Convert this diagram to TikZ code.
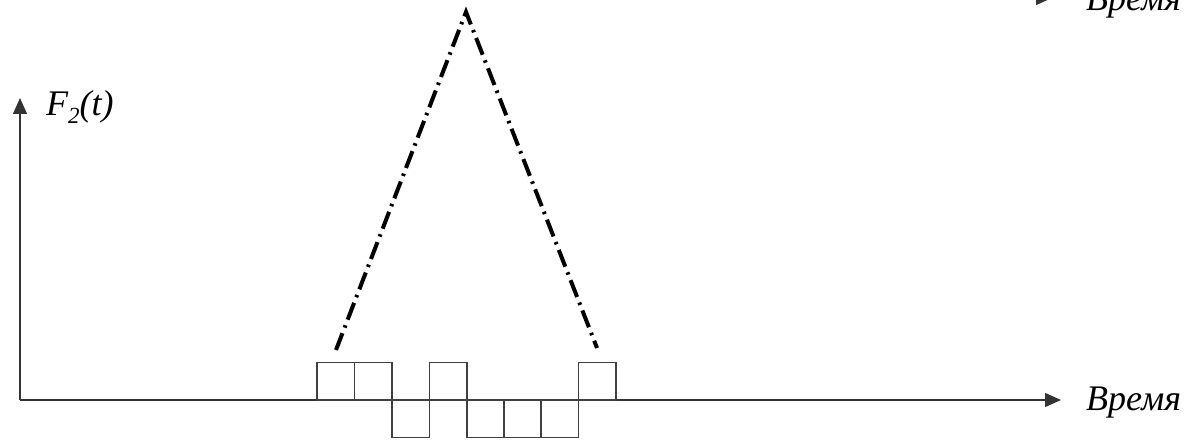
\documentclass[tikz,border=0pt]{standalone}
\usepackage{fontspec}
\setmainfont{Liberation Serif}[ItalicFont={Liberation Serif Italic}]
\newfontfamily\timesit{Liberation Serif Italic}
\usetikzlibrary{arrows.meta}
\begin{document}
\begin{tikzpicture}[x=1pt,y=-1pt,
 axis/.style={line width=1.4pt, draw=black!80, -{Triangle[length=16pt,width=14pt]}},
 box/.style={line width=1.3pt, draw=black!75},
 dd/.style={line width=4pt, dash pattern=on 18pt off 6pt on 2.5pt off 6pt},
 lbl/.style={font=\timesit\fontsize{36}{40}\selectfont, inner sep=0pt, anchor=base west}]
\useasboundingbox (0,0) rectangle (1190,443);
% axes
\coordinate (O) at (20,400);
\coordinate (X) at (1061,400);
\coordinate (Y) at (20,98);
\draw[axis] (O) -- (X);
\draw[axis] (O) -- (Y);
\node[lbl] (tlab) at (1086,410) {Время};
\node[lbl] (flab) at (46,116) {F\raisebox{-0.22em}{\fontsize{23}{23}\selectfont 2}(t)};
% partial axis at top (cut off)
\coordinate (T0) at (900,-2);
\coordinate (T1) at (1052,-2);
\draw[axis] (T0) -- (T1);
\node[lbl] (tlab2) at (1086,11) {Время};
% pulses
\draw[box] (317,400) rectangle (354.5,362.5);
\draw[box] (354.5,400) rectangle (392,362.5);
\draw[box] (392,400) rectangle (429.5,437.5);
\draw[box] (429.5,400) rectangle (467,362.5);
\draw[box] (467,400) rectangle (504,437.5);
\draw[box] (504,400) rectangle (541,437.5);
\draw[box] (541,400) rectangle (578.5,437.5);
\draw[box] (578.5,400) rectangle (616,362.5);
% dash-dot triangle
\coordinate (L) at (336,350);
\coordinate (A) at (466,12);
\coordinate (R) at (597,348);
\draw[dd] (L) -- (A) -- (R);
\end{tikzpicture}
\end{document}
